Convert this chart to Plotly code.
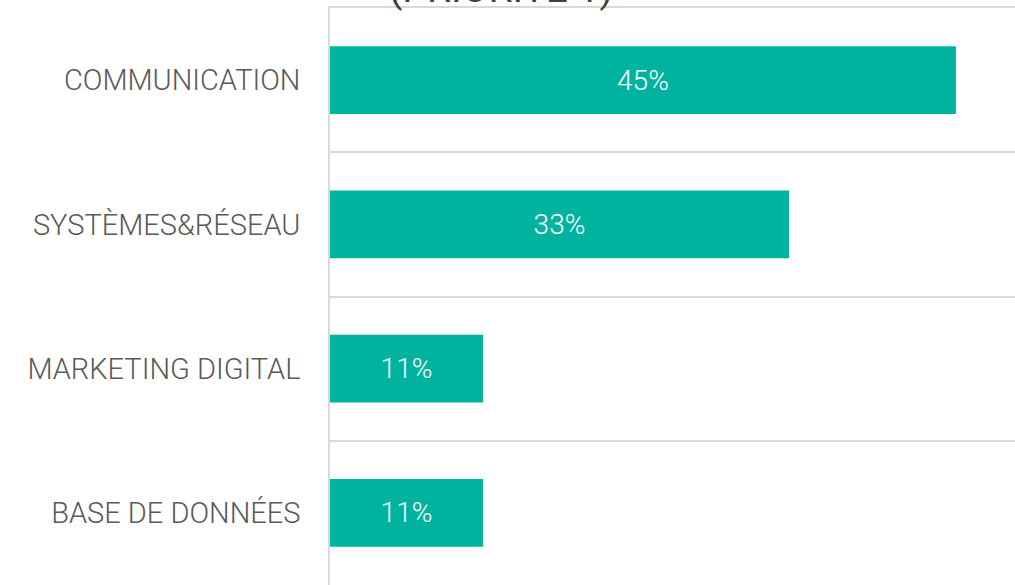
import plotly.graph_objects as go

categories = ["COMMUNICATION", "SYSTÈMES&RÉSEAU", "MARKETING DIGITAL", "BASE DE DONNÉES"]
values = [45, 33, 11, 11]
labels = ["45%", "33%", "11%", "11%"]
title_text = "(PRIORITÉ 1)"

fig = go.Figure(
    go.Bar(
        x=values,
        y=categories,
        orientation="h",
        text=labels,
        textposition="inside",
        insidetextanchor="middle",
        textangle=0,
        textfont=dict(family="Roboto", size=28, color="white", weight=300),
        marker=dict(color="#00B3A1", line=dict(width=0)),
        hoverinfo="skip",
    )
)

fig.update_layout(
    width=1015,
    height=585,
    margin=dict(l=330, r=0, t=8, b=0, pad=0),
    paper_bgcolor="white",
    plot_bgcolor="white",
    bargap=0.53,
    showlegend=False,
    annotations=[
        dict(
            text=title_text,
            xref="paper", yref="paper",
            x=0.25, y=1.0, xanchor="center", yanchor="bottom",
            yshift=-6,
            showarrow=False,
            font=dict(family="Roboto", size=39, color="#404040"),
        )
    ],
)

fig.update_xaxes(
    range=[0, 49.25],
    side="top",
    showgrid=False,
    showticklabels=False,
    zeroline=False,
    showline=True,
    linecolor="#D9D9D9",
    linewidth=1.5,
    automargin=False,
)

fig.update_yaxes(
    type="category",
    categoryorder="array",
    categoryarray=categories,
    autorange="reversed",
    tickson="boundaries",
    ticks="",
    showgrid=True,
    gridcolor="#D9D9D9",
    gridwidth=1.5,
    showline=True,
    linecolor="#D9D9D9",
    linewidth=1.5,
    ticklabelstandoff=22,
    automargin=False,
    tickfont=dict(family="Roboto", size=29, color="#595959", weight=300),
)

fig.write_html(
    "out.html",
    config={"displayModeBar": False},
    post_script="document.body.style.margin='0';document.body.style.overflow='hidden';",
)
